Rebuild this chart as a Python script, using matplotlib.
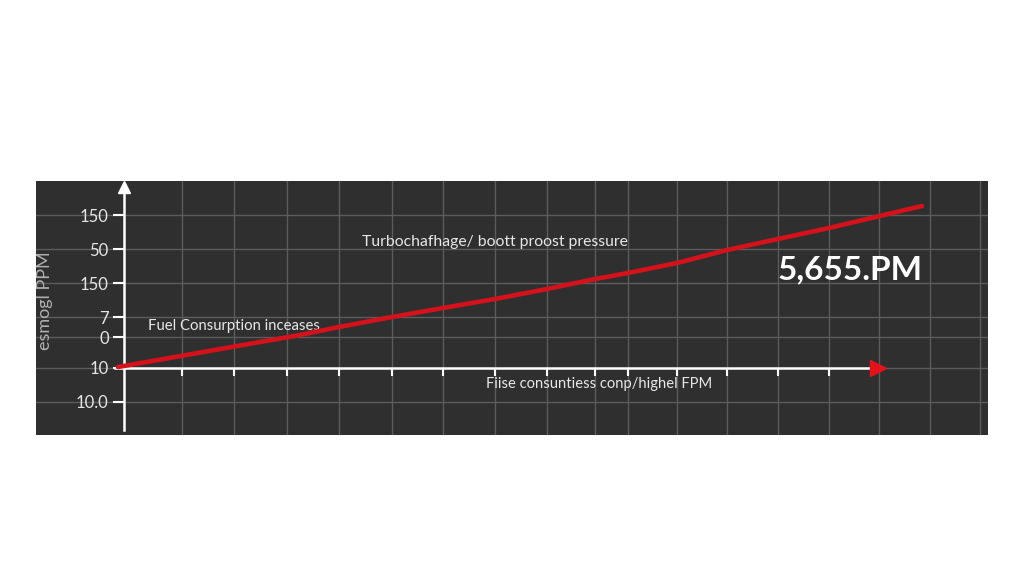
import matplotlib.pyplot as plt

plt.rcParams['font.family'] = ['Lato', 'DejaVu Sans']

# engine speed (rpm) and boost curve
rpm = [-60, 1760, 2150, 2680, 3190, 3710, 4230, 4710, 5040, 5530, 6030, 7050, 7980]
boost = [68, 100, 108, 118, 127, 136, 146, 156, 162, 172, 185, 207, 229]

y_pos = [220, 186, 152, 118, 98, 67, 33]
y_labels = ['150', '50', '150', '7', '0', '10', '10.0']

grid_x = [580, 1100, 1630, 2150, 2680, 3190, 3710, 4230, 4710, 5040,
          5530, 6030, 6540, 7050, 7550, 8060, 8560]
tick_x = grid_x[:14]

fig = plt.figure(figsize=(10.24, 5.85), dpi=100)
fig.patch.set_facecolor('white')
ax = fig.add_axes([36/1024, 150/585, 952/1024, 254/585])
ax.set_facecolor('#2f2f2f')
ax.set_xlim(-880, 8640)
ax.set_ylim(0, 254)

# grid
ax.set_xticks(grid_x, minor=True)
ax.set_xticks(tick_x)
ax.set_xticklabels([])
ax.set_yticks(y_pos)
ax.set_yticklabels(y_labels)
ax.grid(which='both', axis='x', color='#5c5c5c', lw=1)
ax.grid(which='major', axis='y', color='#5c5c5c', lw=1)
ax.tick_params(axis='x', which='minor', length=0)
ax.tick_params(axis='x', which='major', direction='out', length=6, width=1.5, color='white')
ax.tick_params(axis='y', direction='out', length=8, width=1.5, color='white',
               labelcolor='#e6e6e6', labelsize=12, pad=3)

# axes drawn inside the panel
for s in ['top', 'right']:
    ax.spines[s].set_visible(False)
ax.spines['left'].set_position(('data', 0))
ax.spines['left'].set_bounds(5, 246)
ax.spines['bottom'].set_position(('data', 67))
ax.spines['bottom'].set_bounds(-90, 7470)
for s in ['left', 'bottom']:
    ax.spines[s].set_color('white')
    ax.spines[s].set_linewidth(1.8)
ax.plot([0], [248], marker='^', color='white', ms=8, clip_on=False, zorder=5)
ax.plot([7540], [67], marker='>', color='#e5121b', ms=11, zorder=5)

ax.plot(rpm, boost, color='#d5121b', lw=3.3, solid_capstyle='round',
        solid_joinstyle='round', zorder=4)

ax.text(2380, 193, 'Turbochafhage/ boott proost pressure', color='#e8e8e8',
        fontsize=11.3, va='center', ha='left')
ax.text(240, 109, 'Fuel Consurption inceases', color='#e8e8e8',
        fontsize=10.7, va='center', ha='left')
ax.text(3620, 51, 'Fiise consuntiess conp/highel FPM', color='#e8e8e8',
        fontsize=10.6, va='center', ha='left')
ax.text(6540, 165, '5,655.PM', color='white', fontsize=24, fontweight='bold',
        va='center', ha='left')

fig.text(45/1024, 1 - 301/585, 'esmogl PPM', rotation=90, color='#b0b0b0',
         fontsize=13, va='center', ha='center')

fig.savefig('out.png', dpi=100, facecolor='white')
